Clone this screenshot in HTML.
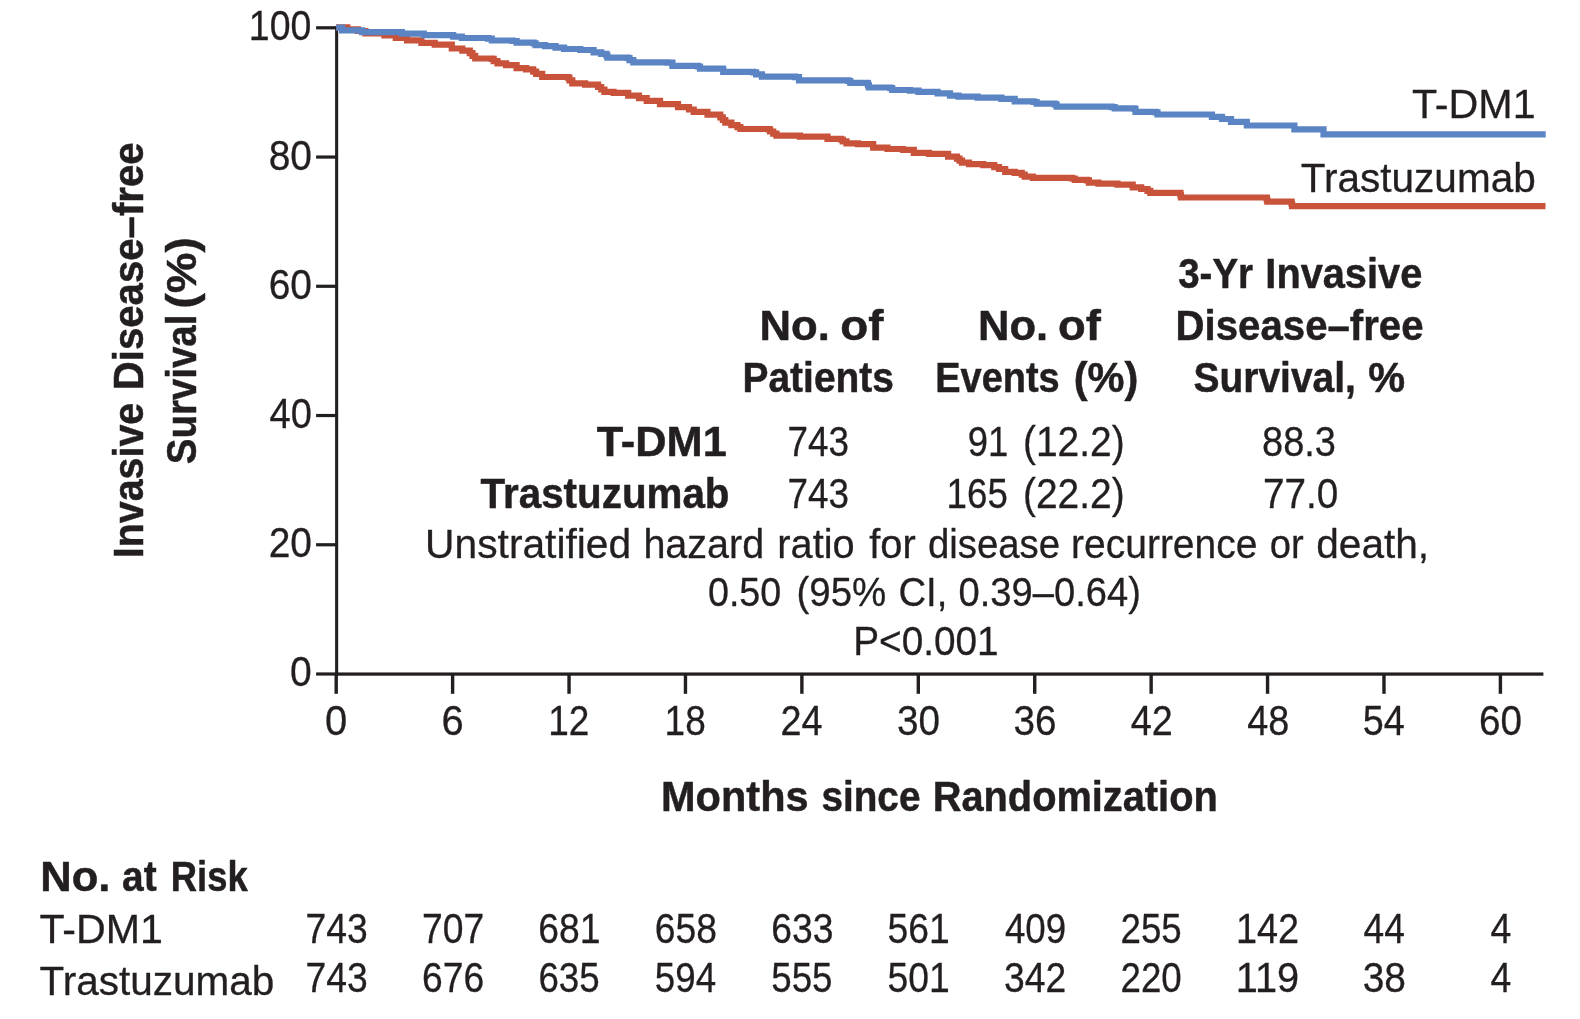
<!DOCTYPE html>
<html><head><meta charset="utf-8"><title>Kaplan-Meier: Invasive Disease-free Survival</title>
<style>
html,body{margin:0;padding:0;background:#fff;}
body{width:1580px;height:1019px;overflow:hidden;font-family:"Liberation Sans",sans-serif;}
svg{display:block;will-change:transform;}
svg text{font-family:"Liberation Sans",sans-serif;fill:#231f20;stroke:#231f20;stroke-linejoin:round;white-space:pre}
svg text.r{font-weight:400;stroke-width:0.3px}
svg text.b{font-weight:700;stroke-width:0.5px}
</style></head><body>
<svg width="1580" height="1019" viewBox="0 0 1580 1019">
<rect width="1580" height="1019" fill="#ffffff"/>
<g fill="#231f20">
<rect x="335.1" y="26.2" width="3.1" height="649.5"/>
<rect x="335.1" y="672.45" width="1208.3" height="3.25"/>
<rect x="316.1" y="26.20" width="20" height="3.2"/>
<rect x="316.1" y="155.44" width="20" height="3.2"/>
<rect x="316.1" y="284.68" width="20" height="3.2"/>
<rect x="316.1" y="413.92" width="20" height="3.2"/>
<rect x="316.1" y="543.16" width="20" height="3.2"/>
<rect x="316.1" y="672.40" width="20" height="3.2"/>
<rect x="334.50" y="674" width="3.4" height="19.8"/>
<rect x="450.92" y="674" width="3.4" height="19.8"/>
<rect x="567.34" y="674" width="3.4" height="19.8"/>
<rect x="683.76" y="674" width="3.4" height="19.8"/>
<rect x="800.18" y="674" width="3.4" height="19.8"/>
<rect x="916.60" y="674" width="3.4" height="19.8"/>
<rect x="1033.02" y="674" width="3.4" height="19.8"/>
<rect x="1149.44" y="674" width="3.4" height="19.8"/>
<rect x="1265.86" y="674" width="3.4" height="19.8"/>
<rect x="1382.28" y="674" width="3.4" height="19.8"/>
<rect x="1498.70" y="674" width="3.4" height="19.8"/>
</g>
<g fill="none" stroke-width="6.2" stroke-linejoin="miter" stroke-linecap="butt">
<path stroke="#c9523a" d="M336.2,27.3 L347.3,27.3 L347.3,29.3 L357.8,29.3 L357.8,31.0 L365.4,31.0 L365.4,33.3 L384.4,33.3 L384.4,35.4 L395.8,35.4 L395.8,38.0 L407.1,38.0 L407.1,40.4 L421.4,40.4 L421.4,42.8 L434.7,42.8 L434.7,44.7 L451.8,44.7 L451.8,48.5 L462.3,48.5 L462.3,50.6 L468.4,50.6 L469.8,50.6 L469.8,53.2 L472.5,53.2 L472.5,55.9 L475.2,55.9 L475.2,58.5 L476.6,58.5 L491.8,58.5 L491.8,58.9 L493.7,58.9 L493.7,61.1 L497.5,61.1 L497.5,63.3 L499.4,63.3 L506.1,63.3 L506.1,65.2 L512.8,65.2 L516.6,65.2 L516.6,68.1 L520.4,68.1 L526.1,68.1 L526.1,69.4 L531.8,69.4 L533.2,69.4 L533.2,71.6 L536.1,71.6 L536.1,73.8 L537.5,73.8 L542.2,73.8 L542.2,77.0 L547.0,77.0 L568.0,77.0 L568.0,77.6 L569.4,77.6 L569.4,80.4 L572.3,80.4 L572.3,83.3 L573.7,83.3 L585.1,83.3 L585.1,84.6 L596.5,84.6 L598.1,84.6 L598.1,87.0 L601.2,87.0 L601.2,89.5 L604.4,89.5 L604.4,91.9 L606.0,91.9 L613.6,91.9 L613.6,92.8 L621.3,92.8 L628.2,92.8 L628.2,95.7 L635.2,95.7 L639.0,95.7 L639.0,98.2 L646.7,98.2 L646.7,100.8 L650.5,100.8 L660.0,100.8 L660.0,104.2 L669.5,104.2 L678.0,104.2 L678.0,107.1 L686.6,107.1 L689.0,107.1 L689.0,109.5 L693.7,109.5 L693.7,111.9 L696.1,111.9 L707.5,111.9 L707.5,114.7 L719.0,114.7 L720.3,114.7 L720.3,117.4 L722.8,117.4 L722.8,120.0 L725.3,120.0 L725.3,122.7 L726.6,122.7 L731.4,122.7 L731.4,125.2 L736.1,125.2 L737.5,125.2 L737.5,127.1 L740.4,127.1 L740.4,129.0 L741.8,129.0 L768.5,129.0 L768.5,129.4 L770.1,129.4 L770.1,131.5 L773.2,131.5 L773.2,133.6 L776.4,133.6 L776.4,135.7 L778.0,135.7 L799.9,135.7 L799.9,136.6 L821.8,136.6 L827.5,136.6 L827.5,138.9 L833.2,138.9 L840.8,138.9 L840.8,139.5 L842.7,139.5 L842.7,141.4 L846.5,141.4 L846.5,143.3 L848.4,143.3 L858.0,143.3 L858.0,144.2 L867.5,144.2 L873.2,144.2 L873.2,147.6 L878.9,147.6 L887.5,147.6 L887.5,149.0 L896.0,149.0 L903.0,149.0 L903.0,149.9 L910.0,149.9 L913.8,149.9 L913.8,152.8 L917.6,152.8 L929.0,152.8 L929.0,153.8 L940.5,153.8 L948.1,153.8 L948.1,156.6 L955.7,156.6 L957.0,156.6 L957.0,158.6 L959.5,158.6 L959.5,160.7 L962.0,160.7 L962.0,162.7 L963.3,162.7 L969.0,162.7 L969.0,164.2 L974.7,164.2 L983.3,164.2 L983.3,165.2 L991.9,165.2 L994.3,165.2 L994.3,167.1 L999.0,167.1 L999.0,169.0 L1001.4,169.0 L1005.2,169.0 L1005.2,171.8 L1009.0,171.8 L1014.7,171.8 L1014.7,172.8 L1020.4,172.8 L1021.8,172.8 L1021.8,174.7 L1024.7,174.7 L1024.7,176.6 L1026.1,176.6 L1032.8,176.6 L1032.8,177.9 L1039.4,177.9 L1071.8,177.9 L1071.8,178.5 L1074.7,178.5 L1074.7,179.8 L1077.5,179.8 L1087.0,179.8 L1087.0,180.4 L1088.9,180.4 L1088.9,182.7 L1090.8,182.7 L1098.4,182.7 L1098.4,183.6 L1106.1,183.6 L1117.5,183.6 L1117.5,184.6 L1128.9,184.6 L1132.7,184.6 L1132.7,187.4 L1136.5,187.4 L1141.2,187.4 L1141.2,189.0 L1146.0,189.0 L1147.5,189.0 L1147.5,190.9 L1150.3,190.9 L1150.3,192.8 L1151.8,192.8 L1180.3,192.8 L1180.3,193.2 L1180.5,193.2 L1180.5,195.3 L1181.0,195.3 L1181.0,197.5 L1181.3,197.5 L1266.6,197.5 L1266.6,197.7 L1266.8,197.7 L1266.8,199.7 L1267.3,199.7 L1267.3,201.7 L1267.6,201.7 L1291.4,201.7 L1291.6,201.7 L1291.6,203.9 L1292.1,203.9 L1292.1,206.2 L1292.3,206.2 L1545.5,206.2"/>
<path stroke="#5b84c4" d="M336.2,27.6 L342.1,27.6 L342.1,30.4 L362.0,30.4 L362.0,32.2 L401.9,32.2 L401.9,33.7 L423.8,33.7 L423.8,35.2 L453.2,35.2 L453.2,36.6 L461.8,36.6 L461.8,38.0 L488.0,38.0 L488.0,38.6 L491.8,38.6 L491.8,40.5 L495.6,40.5 L512.8,40.5 L512.8,41.0 L516.6,41.0 L516.6,42.7 L520.4,42.7 L533.7,42.7 L533.7,43.3 L535.6,43.3 L535.6,45.2 L537.5,45.2 L545.1,45.2 L545.1,46.2 L552.7,46.2 L555.5,46.2 L555.5,47.7 L558.4,47.7 L564.1,47.7 L564.1,49.0 L569.9,49.0 L580.3,49.0 L580.3,50.0 L590.8,50.0 L593.6,50.0 L593.6,52.3 L596.5,52.3 L601.2,52.3 L601.2,53.8 L606.0,53.8 L606.5,53.8 L606.5,55.7 L607.4,55.7 L607.4,57.6 L607.9,57.6 L627.6,57.6 L627.6,58.0 L629.5,58.0 L629.5,60.2 L633.3,60.2 L633.3,62.4 L635.2,62.4 L667.6,62.4 L667.6,62.7 L672.4,62.7 L672.4,65.8 L677.1,65.8 L698.0,65.8 L698.0,66.5 L700.0,66.5 L700.0,68.6 L701.9,68.6 L722.8,68.6 L722.8,69.0 L723.2,69.0 L723.2,71.9 L723.7,71.9 L753.3,71.9 L753.3,72.3 L756.1,72.3 L756.1,74.4 L761.9,74.4 L761.9,76.6 L764.7,76.6 L795.1,76.6 L795.1,77.2 L799.0,77.2 L799.0,80.4 L802.8,80.4 L848.4,80.4 L848.4,81.0 L850.3,81.0 L850.3,82.9 L852.2,82.9 L867.5,82.9 L867.5,83.3 L868.0,83.3 L868.0,85.4 L868.9,85.4 L868.9,87.5 L869.4,87.5 L890.3,87.5 L890.3,88.1 L892.2,88.1 L892.2,90.0 L894.1,90.0 L910.0,90.0 L910.0,90.6 L918.5,90.6 L918.5,91.9 L927.1,91.9 L937.6,91.9 L937.6,93.4 L948.1,93.4 L950.0,93.4 L950.0,95.7 L951.9,95.7 L958.5,95.7 L958.5,96.6 L965.2,96.6 L977.6,96.6 L977.6,97.6 L990.0,97.6 L1001.4,97.6 L1001.4,98.9 L1012.8,98.9 L1014.7,98.9 L1014.7,101.4 L1016.6,101.4 L1033.7,101.4 L1033.7,102.0 L1036.6,102.0 L1036.6,103.7 L1039.4,103.7 L1054.7,103.7 L1054.7,104.3 L1056.6,104.3 L1056.6,106.7 L1058.5,106.7 L1111.8,106.7 L1111.8,107.1 L1114.7,107.1 L1114.7,108.4 L1117.5,108.4 L1134.6,108.4 L1134.6,109.0 L1135.5,109.0 L1135.5,111.9 L1136.5,111.9 L1155.6,111.9 L1155.6,112.3 L1157.5,112.3 L1157.5,114.5 L1159.4,114.5 L1211.9,114.5 L1211.9,116.8 L1222.0,116.8 L1222.0,119.0 L1231.0,119.0 L1231.0,121.9 L1246.8,121.9 L1246.8,125.5 L1294.4,125.5 L1294.4,129.3 L1323.5,129.3 L1323.5,134.4 L1545.7,134.4"/>
</g>
<g>
<text transform="translate(248.82,40.30) scale(0.8924,1)" class="r" font-size="42.0">100</text>
<text transform="translate(268.64,169.60) scale(0.9279,1)" class="r" font-size="42.0">80</text>
<text transform="translate(268.64,298.80) scale(0.9279,1)" class="r" font-size="42.0">60</text>
<text transform="translate(269.59,428.00) scale(0.9068,1)" class="r" font-size="42.0">40</text>
<text transform="translate(268.64,557.20) scale(0.9279,1)" class="r" font-size="42.0">20</text>
<text transform="translate(289.94,686.40) scale(0.9300,1)" class="r" font-size="42.0">0</text>
<text transform="translate(325.10,734.90) scale(0.9500,1)" class="r" font-size="42.0">0</text>
<text transform="translate(441.52,734.90) scale(0.9500,1)" class="r" font-size="42.0">6</text>
<text transform="translate(548.20,734.90) scale(0.8810,1)" class="r" font-size="42.0">12</text>
<text transform="translate(664.62,734.90) scale(0.8810,1)" class="r" font-size="42.0">18</text>
<text transform="translate(780.58,734.90) scale(0.9000,1)" class="r" font-size="42.0">24</text>
<text transform="translate(896.96,734.90) scale(0.9209,1)" class="r" font-size="42.0">30</text>
<text transform="translate(1013.38,734.90) scale(0.9209,1)" class="r" font-size="42.0">36</text>
<text transform="translate(1130.74,734.90) scale(0.9000,1)" class="r" font-size="42.0">42</text>
<text transform="translate(1247.16,734.90) scale(0.9000,1)" class="r" font-size="42.0">48</text>
<text transform="translate(1362.68,734.90) scale(0.9000,1)" class="r" font-size="42.0">54</text>
<text transform="translate(1479.06,734.90) scale(0.9209,1)" class="r" font-size="42.0">60</text>
<text transform="translate(661.02,810.50) scale(0.9611,1)" class="b" font-size="43.2">Months</text>
<text transform="translate(821.40,810.50) scale(0.8972,1)" class="b" font-size="43.2">since</text>
<text transform="translate(932.74,810.50) scale(0.9207,1)" class="b" font-size="43.2">Randomization</text>
<text transform="translate(1411.88,118.20) scale(1.0160,1)" class="r" font-size="40.6">T-DM1</text>
<text transform="translate(1300.80,191.60) scale(0.9983,1)" class="r" font-size="40.6">Trastuzumab</text>
<text transform="translate(1178.21,288.10) scale(0.8904,1)" class="b" font-size="43.2">3-Yr</text>
<text transform="translate(1265.34,288.10) scale(0.9205,1)" class="b" font-size="43.2">Invasive</text>
<text transform="translate(1175.61,340.30) scale(0.9302,1)" class="b" font-size="43.2">Disease–free</text>
<text transform="translate(1193.50,392.10) scale(0.9023,1)" class="b" font-size="43.2">Survival,</text>
<text transform="translate(1368.14,392.10) scale(0.9595,1)" class="b" font-size="43.2">%</text>
<text transform="translate(759.57,340.30) scale(1.0109,1)" class="b" font-size="43.2">No.</text>
<text transform="translate(840.24,340.30) scale(1.0600,1)" class="b" font-size="43.2">of</text>
<text transform="translate(742.50,392.10) scale(0.9012,1)" class="b" font-size="43.2">Patients</text>
<text transform="translate(977.98,340.30) scale(1.0078,1)" class="b" font-size="43.2">No.</text>
<text transform="translate(1058.05,340.30) scale(1.0500,1)" class="b" font-size="43.2">of</text>
<text transform="translate(935.26,392.10) scale(0.8788,1)" class="b" font-size="43.2">Events</text>
<text transform="translate(1073.68,392.10) scale(0.9619,1)" class="b" font-size="43.2">(%)</text>
<text transform="translate(596.70,455.70) scale(1.0039,1)" class="b" font-size="43.2">T-DM1</text>
<text transform="translate(480.60,507.80) scale(0.9343,1)" class="b" font-size="43.2">Trastuzumab</text>
<text transform="translate(787.45,456.00) scale(0.8773,1)" class="r" font-size="42.0">743</text>
<text transform="translate(787.45,508.20) scale(0.8773,1)" class="r" font-size="42.0">743</text>
<text transform="translate(967.87,456.00) scale(0.8674,1)" class="r" font-size="42.0">91</text>
<text transform="translate(1022.92,456.00) scale(0.9279,1)" class="r" font-size="42.0">(12.2)</text>
<text transform="translate(946.58,508.20) scale(0.8742,1)" class="r" font-size="42.0">165</text>
<text transform="translate(1022.92,508.20) scale(0.9279,1)" class="r" font-size="42.0">(22.2)</text>
<text transform="translate(1262.09,456.00) scale(0.9038,1)" class="r" font-size="42.0">88.3</text>
<text transform="translate(1262.96,508.20) scale(0.9205,1)" class="r" font-size="42.0">77.0</text>
<text transform="translate(425.09,557.70) scale(1.0040,1)" class="r" font-size="40.6">Unstratified</text>
<text transform="translate(643.38,557.70) scale(0.9739,1)" class="r" font-size="40.6">hazard</text>
<text transform="translate(777.36,557.70) scale(0.9784,1)" class="r" font-size="40.6">ratio</text>
<text transform="translate(869.20,557.70) scale(0.9809,1)" class="r" font-size="40.6">for</text>
<text transform="translate(928.01,557.70) scale(0.9441,1)" class="r" font-size="40.6">disease</text>
<text transform="translate(1071.12,557.70) scale(0.9600,1)" class="r" font-size="40.6">recurrence</text>
<text transform="translate(1269.72,557.70) scale(0.9382,1)" class="r" font-size="40.6">or</text>
<text transform="translate(1316.30,557.70) scale(1.0000,1)" class="r" font-size="40.6">death,</text>
<text transform="translate(707.97,606.40) scale(0.9273,1)" class="r" font-size="40.6">0.50</text>
<text transform="translate(796.50,606.40) scale(0.9478,1)" class="r" font-size="40.6">(95%</text>
<text transform="translate(898.52,606.40) scale(0.9413,1)" class="r" font-size="40.6">CI,</text>
<text transform="translate(958.56,606.40) scale(0.9393,1)" class="r" font-size="40.6">0.39–0.64)</text>
<text transform="translate(853.13,654.50) scale(0.9554,1)" class="r" font-size="40.6">P&lt;0.001</text>
<text transform="translate(40.28,890.90) scale(1.0078,1)" class="b" font-size="43.2">No.</text>
<text transform="translate(122.10,890.90) scale(0.9000,1)" class="b" font-size="43.2">at</text>
<text transform="translate(170.77,890.90) scale(0.8427,1)" class="b" font-size="43.2">Risk</text>
<text transform="translate(39.39,942.50) scale(1.0134,1)" class="r" font-size="40.6">T-DM1</text>
<text transform="translate(39.40,994.50) scale(0.9983,1)" class="r" font-size="40.6">Trastuzumab</text>
<text transform="translate(305.52,943.00) scale(0.8879,1)" class="r" font-size="42.0">743</text>
<text transform="translate(421.94,943.00) scale(0.8879,1)" class="r" font-size="42.0">707</text>
<text transform="translate(538.36,943.00) scale(0.8879,1)" class="r" font-size="42.0">681</text>
<text transform="translate(654.78,943.00) scale(0.8879,1)" class="r" font-size="42.0">658</text>
<text transform="translate(771.20,943.00) scale(0.8879,1)" class="r" font-size="42.0">633</text>
<text transform="translate(887.62,943.00) scale(0.8879,1)" class="r" font-size="42.0">561</text>
<text transform="translate(1004.95,943.00) scale(0.8746,1)" class="r" font-size="42.0">409</text>
<text transform="translate(1120.49,943.00) scale(0.8746,1)" class="r" font-size="42.0">255</text>
<text transform="translate(1235.96,943.00) scale(0.9015,1)" class="r" font-size="42.0">142</text>
<text transform="translate(1363.60,943.00) scale(0.8844,1)" class="r" font-size="42.0">44</text>
<text transform="translate(1490.56,943.00) scale(0.8905,1)" class="r" font-size="42.0">4</text>
<text transform="translate(305.52,992.30) scale(0.8879,1)" class="r" font-size="42.0">743</text>
<text transform="translate(421.94,992.30) scale(0.8879,1)" class="r" font-size="42.0">676</text>
<text transform="translate(538.39,992.30) scale(0.8746,1)" class="r" font-size="42.0">635</text>
<text transform="translate(654.81,992.30) scale(0.8746,1)" class="r" font-size="42.0">594</text>
<text transform="translate(771.23,992.30) scale(0.8746,1)" class="r" font-size="42.0">555</text>
<text transform="translate(887.62,992.30) scale(0.8879,1)" class="r" font-size="42.0">501</text>
<text transform="translate(1004.04,992.30) scale(0.8879,1)" class="r" font-size="42.0">342</text>
<text transform="translate(1120.49,992.30) scale(0.8746,1)" class="r" font-size="42.0">220</text>
<text transform="translate(1235.82,992.30) scale(0.9452,1)" class="r" font-size="42.0">119</text>
<text transform="translate(1362.63,992.30) scale(0.9256,1)" class="r" font-size="42.0">38</text>
<text transform="translate(1490.56,992.30) scale(0.8905,1)" class="r" font-size="42.0">4</text>
<text transform="translate(143.30,555.50) rotate(-90) translate(-2.73,0) scale(0.9114,1)" class="b" font-size="43.2">Invasive</text>
<text transform="translate(143.30,387.50) rotate(-90) translate(-2.79,0) scale(0.9302,1)" class="b" font-size="43.2">Disease–free</text>
<text transform="translate(195.80,463.40) rotate(-90) translate(-0.89,0) scale(0.8909,1)" class="b" font-size="43.2">Survival</text>
<text transform="translate(195.80,306.40) rotate(-90) translate(-2.12,0) scale(1.0603,1)" class="b" font-size="43.2">(%)</text>
</g>
</svg>
</body></html>
